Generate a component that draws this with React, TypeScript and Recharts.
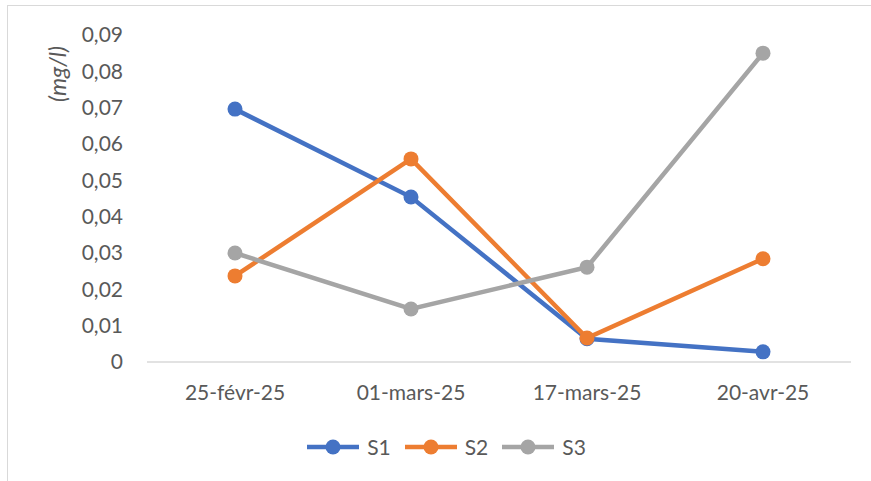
import React from 'react'
import { LineChart, Line, XAxis, YAxis, Legend } from 'recharts'

const dates = ['25-févr-25', '01-mars-25', '17-mars-25', '20-avr-25']
const s1 = [0.0696, 0.0454, 0.0064, 0.0028]
const s2 = [0.0237, 0.0559, 0.0066, 0.0284]
const s3 = [0.03, 0.0146, 0.0261, 0.085]
const yTicks = [0, 0.01, 0.02, 0.03, 0.04, 0.05, 0.06, 0.07, 0.08, 0.09]
const bandEdges = [-0.5, 0.5, 1.5, 2.5, 3.5]
const centers = [0, 1, 2, 3]

const series = [
  { key: 'S1', color: '#4472C4' },
  { key: 'S2', color: '#ED7D31' },
  { key: 'S3', color: '#A5A5A5' },
]

const data = dates.map((d, i) => ({ idx: i, date: d, S1: s1[i], S2: s2[i], S3: s3[i] }))

const FONT = 'Lato, "Open Sans", sans-serif'
const TXT = '#595959'

const fmtY = (v: number) => (v === 0 ? '0' : v.toFixed(2).replace('.', ','))

const YLabel = (props: any) => {
  const vb = props.viewBox || { x: 0, y: 0 }
  const cx = vb.x + 57
  const cy = vb.y + 39
  return (
    <text x={cx} y={cy} transform={`rotate(-90, ${cx}, ${cy})`} textAnchor="middle" dominantBaseline="central"
      fill={TXT} fontSize={23} fontStyle="italic" fontFamily={FONT}>
      (mg/l)
    </text>
  )
}

const LegendContent = () => (
  <div style={{ display: 'flex', justifyContent: 'center', fontFamily: FONT, fontSize: 21, color: TXT }}>
    {series.map((s) => (
      <div key={s.key} style={{ display: 'flex', alignItems: 'center', marginLeft: 7, marginRight: 7 }}>
        <svg width={52} height={18}>
          <line x1={0} y1={9} x2={52} y2={9} stroke={s.color} strokeWidth={4.5} />
          <circle cx={26} cy={9} r={7.5} fill={s.color} />
        </svg>
        <span style={{ marginLeft: 8 }}>{s.key}</span>
      </div>
    ))}
  </div>
)

export default function App() {
  return (
    <div style={{ position: 'absolute', left: 0, top: 0, width: 871, height: 481, overflow: 'hidden', background: '#fff' }}>
      <div style={{ position: 'absolute', left: 7, top: 5, width: 900, height: 520, border: '1px solid #d9d9d9' }} />
      <div style={{ position: 'absolute', left: 0, top: 0 }}>
        <LineChart width={871} height={481} data={data} margin={{ top: 35, right: 20, bottom: 88, left: 0 }}>
          <XAxis dataKey="idx" type="number" domain={[-0.5, 3.5]} ticks={bandEdges} allowDataOverflow
            tick={false} tickSize={7} height={1} axisLine={{ stroke: '#d9d9d9', strokeWidth: 1.5 }}
            tickLine={{ stroke: '#d9d9d9', strokeWidth: 1.5 }} />
          <XAxis xAxisId="lab" dataKey="idx" type="number" domain={[-0.5, 3.5]} ticks={centers} allowDataOverflow
            height={30} axisLine={false} tickLine={false} tickSize={0} tickMargin={22} interval={0}
            tickFormatter={(v: number) => dates[v]} tick={{ fill: TXT, fontSize: 21, fontFamily: FONT }} />
          <YAxis width={147} domain={[0, 0.09]} ticks={yTicks} axisLine={false} tickLine={false} tickSize={0}
            tickMargin={24} tickFormatter={fmtY} tick={{ fill: TXT, fontSize: 21, fontFamily: FONT }}
            label={YLabel} />
          <Legend verticalAlign="middle" align="center" layout="horizontal" content={LegendContent}
            wrapperStyle={{ top: 434, left: 11, width: 871 }} />
          {series.map((s) => (
            <Line key={s.key} dataKey={s.key} stroke={s.color} strokeWidth={4.5} isAnimationActive={false}
              dot={{ r: 7.5, fill: s.color, stroke: s.color, strokeWidth: 0 }} activeDot={false} />
          ))}
        </LineChart>
      </div>
    </div>
  )
}
